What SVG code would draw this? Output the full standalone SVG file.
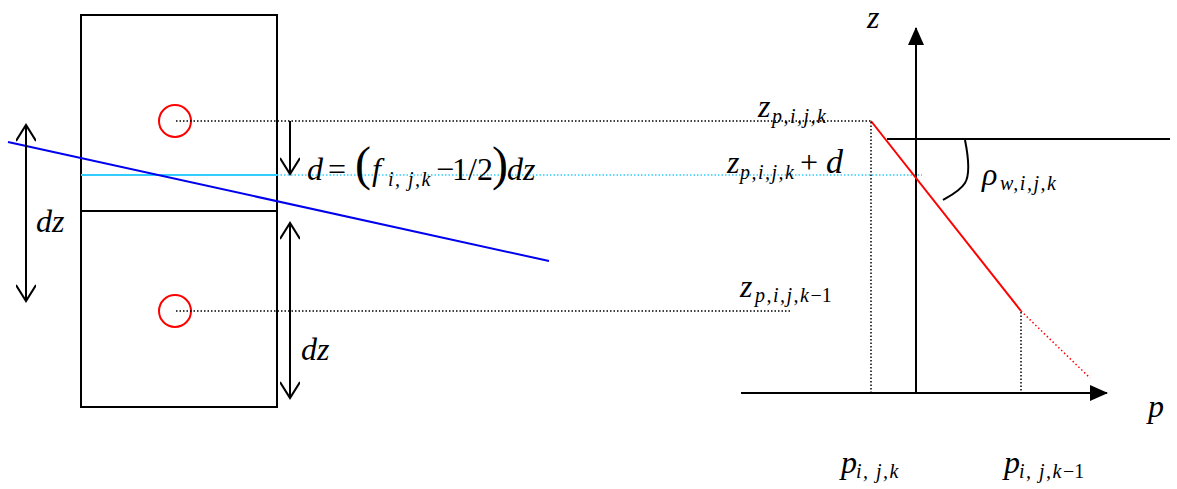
<svg xmlns="http://www.w3.org/2000/svg" width="1177" height="489" viewBox="0 0 1177 489">
<style>
.ln{stroke:#000;stroke-width:2;fill:none}
.dot{stroke:#000;stroke-width:1.5;stroke-dasharray:1.5 2;fill:none}
.cyd{stroke:#33ccff;stroke-width:1.5;stroke-dasharray:1.5 2;fill:none}
.t{font-family:"Liberation Serif","Times New Roman",serif;fill:#000;font-size:32px}
.i{font-style:italic}
.sub{font-size:20px;font-style:italic;letter-spacing:1.5px}
.par{font-size:48px}
</style>
<defs>
<marker id="open" viewBox="0 0 20 20" refX="18" refY="10" markerWidth="20" markerHeight="20" markerUnits="userSpaceOnUse" orient="auto-start-reverse">
<path d="M2,0 L18,10 L2,20" fill="none" stroke="#000" stroke-width="2"/>
</marker>
<marker id="fill" viewBox="0 0 18 16" refX="17" refY="8" markerWidth="18" markerHeight="16" markerUnits="userSpaceOnUse" orient="auto">
<path d="M0,0 L18,8 L0,16 Z" fill="#000"/>
</marker>
</defs>
<g id="cells">
<rect x="81" y="15" width="196" height="392" class="ln"/>
<line x1="81" y1="211" x2="277" y2="211" class="ln"/>
<line x1="81" y1="175" x2="277" y2="175" stroke="#33ccff" stroke-width="2"/>
<circle cx="175" cy="121" r="16" fill="none" stroke="#ff0000" stroke-width="2"/>
<circle cx="175" cy="311" r="16" fill="none" stroke="#ff0000" stroke-width="2"/>
</g>
<g id="connectors">
<line x1="176" y1="121" x2="871" y2="121" class="dot"/>
<line x1="176" y1="311" x2="790" y2="311" class="dot"/>
<line x1="277" y1="175" x2="922" y2="175" class="cyd"/>
<line x1="8" y1="142" x2="549" y2="261" stroke="#0000ee" stroke-width="2"/>
<line x1="26" y1="301" x2="26" y2="125" class="ln" marker-start="url(#open)" marker-end="url(#open)"/>
<line x1="290" y1="121" x2="290" y2="174" class="ln" marker-end="url(#open)"/>
<line x1="290" y1="398" x2="290" y2="223" class="ln" marker-start="url(#open)" marker-end="url(#open)"/>
<line x1="916" y1="393" x2="916" y2="28" class="ln" marker-end="url(#fill)"/>
<line x1="741" y1="393" x2="1107" y2="393" class="ln" marker-end="url(#fill)"/>
<line x1="887" y1="139" x2="1170" y2="139" class="ln"/>
<line x1="871" y1="121" x2="1021" y2="311" stroke="#ff0000" stroke-width="2"/>
<line x1="1021" y1="311" x2="1090" y2="378" stroke="#ff0000" stroke-width="1.5" stroke-dasharray="1.5 2.5"/>
<line x1="871" y1="122" x2="871" y2="393" class="dot"/>
<line x1="1021" y1="312" x2="1021" y2="393" class="dot"/>
<path d="M965,140 C968,155 970,175 965,183 C960,191 950,196 943,200" class="ln"/>
</g>
<g id="labels">
<text class="t i" x="36" y="232" font-size="33">dz</text>
<text class="t i" x="301" y="360">dz</text>
<text class="t" y="180"><tspan class="i" x="307">d</tspan><tspan x="328">=</tspan><tspan class="par" x="355">(</tspan><tspan class="i" x="372">f</tspan><tspan class="sub" x="388" y="186" letter-spacing="0.5">i, j,k</tspan><tspan x="436" y="180">−</tspan><tspan x="452">1/2</tspan><tspan class="par" x="492">)</tspan><tspan class="i" x="507">dz</tspan></text>
<text class="t"><tspan class="i" x="758" y="117">z</tspan><tspan class="sub" x="772" y="123">p,i,j,k</tspan></text>
<text class="t"><tspan class="i" x="727" y="173">z</tspan><tspan class="sub" x="740" y="179">p,i,j,k</tspan><tspan x="800" y="173">+</tspan><tspan class="i" x="826" font-size="34">d</tspan></text>
<text class="t"><tspan class="i" x="740" y="297">z</tspan><tspan class="sub" x="755" y="302">p,i,j,k</tspan><tspan font-size="20" letter-spacing="0">−1</tspan></text>
<text class="t i" x="867" y="28" font-size="24">z</text>
<text class="t i" x="1148" y="417">p</text>
<text class="t"><tspan class="i" x="982" y="185">ρ</tspan><tspan class="sub" x="1000" y="190">w,i,j,k</tspan></text>
<text class="t"><tspan class="i" x="841" y="473">p</tspan><tspan class="sub" x="856" y="478">i, j,k</tspan></text>
<text class="t"><tspan class="i" x="1004" y="473">p</tspan><tspan class="sub" x="1019" y="478">i, j,k</tspan><tspan font-size="20" letter-spacing="0">−1</tspan></text>
</g>
</svg>
